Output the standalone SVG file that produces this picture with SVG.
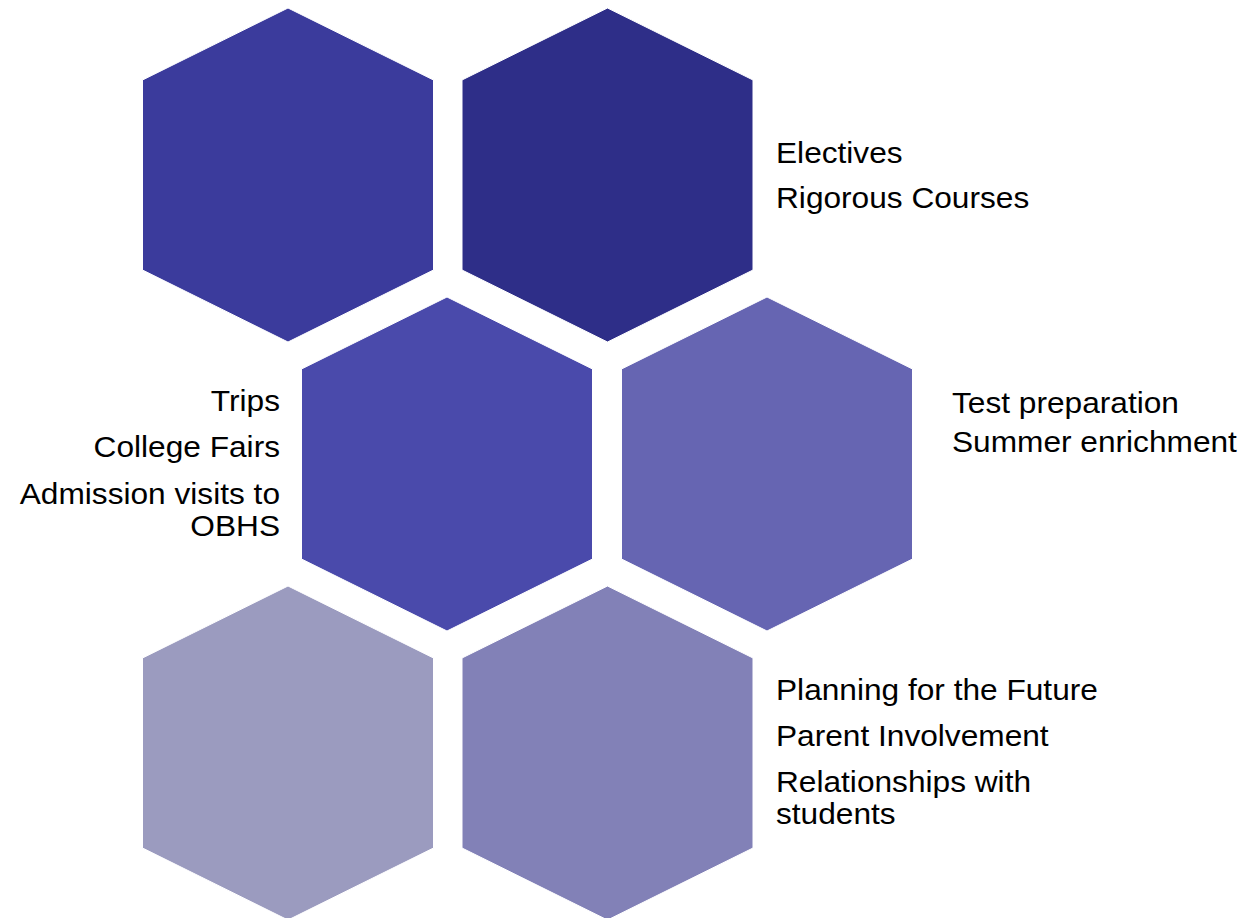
<svg xmlns="http://www.w3.org/2000/svg" xmlns:xlink="http://www.w3.org/1999/xlink" width="1248" height="918" viewBox="0 0 1248 918">
<style>
.hx{stroke:#ffffff;stroke-width:1}
.t{font-family:"Liberation Sans",Arial,sans-serif;font-size:30px;fill:#000000}
.e{text-anchor:end}
</style>
<defs>
<path id="hex" d="M0,0 L145.5,72 L145.5,262 L0,334 L-145.5,262 L-145.5,72 Z"/>
</defs>
<rect width="1248" height="918" fill="#ffffff"/>
<g id="connectors"></g>
<g id="node1"><use xlink:href="#hex" class="hx" x="288" y="8" fill="#3B3B9C"/></g>
<g id="node2"><use xlink:href="#hex" class="hx" x="607.5" y="8" fill="#2E2E88"/>
<g transform="translate(776,0) scale(1.055,1)"><text class="t" x="0" y="163">Electives</text><text class="t" x="0" y="208">Rigorous Courses</text></g></g>
<g id="node3"><use xlink:href="#hex" class="hx" x="447" y="297" fill="#4A4AAB"/>
<g transform="translate(280,0) scale(1.055,1)"><text class="t e" x="0" y="411">Trips</text><text class="t e" x="0" y="457">College Fairs</text><text class="t e" x="0" y="504">Admission visits to</text><text class="t e" x="0" y="536">OBHS</text></g></g>
<g id="node4"><use xlink:href="#hex" class="hx" x="767" y="297" fill="#6665B2"/>
<g transform="translate(952,0) scale(1.055,1)"><text class="t" x="0" y="413">Test preparation</text><text class="t" x="0" y="452">Summer enrichment</text></g></g>
<g id="node5"><use xlink:href="#hex" class="hx" x="607.5" y="586" fill="#8281B7"/>
<g transform="translate(776,0) scale(1.055,1)"><text class="t" x="0" y="700">Planning for the Future</text><text class="t" x="0" y="746">Parent Involvement</text><text class="t" x="0" y="792">Relationships with</text><text class="t" x="0" y="824">students</text></g></g>
<g id="node6"><use xlink:href="#hex" class="hx" x="288" y="586" fill="#9B9BBF"/></g>
</svg>
